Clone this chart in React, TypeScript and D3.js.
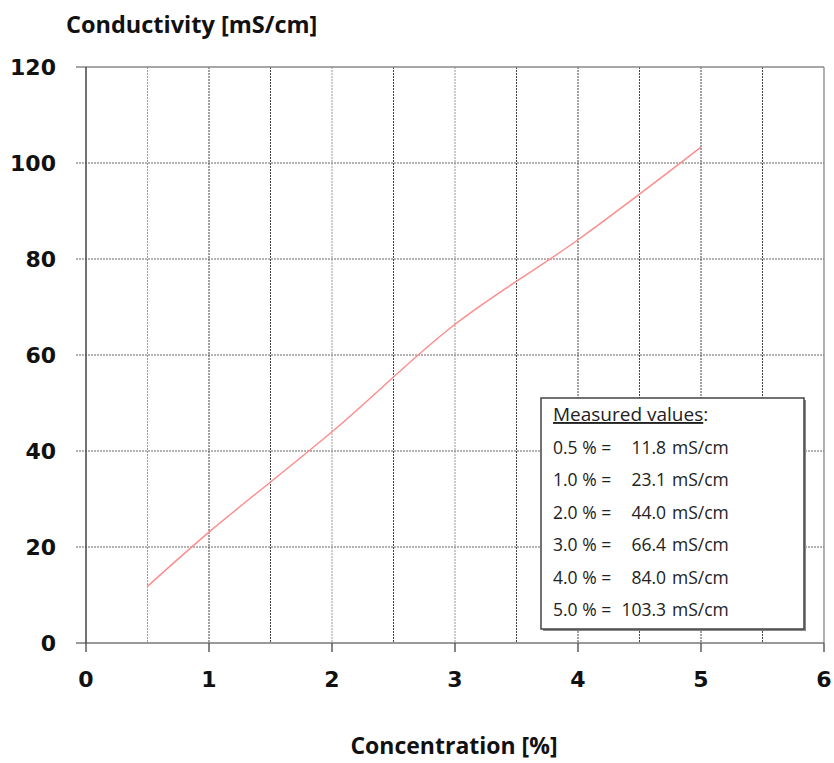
import React from "react";
import * as d3 from "d3";

const concentration = [0.5, 1.0, 2.0, 3.0, 4.0, 5.0];
const conductivity = [11.8, 23.1, 44.0, 66.4, 84.0, 103.3];
const xTicks = [0, 1, 2, 3, 4, 5, 6];
const xGrid = [0.5, 1, 1.5, 2, 2.5, 3, 3.5, 4, 4.5, 5, 5.5];
const yTicks = [0, 20, 40, 60, 80, 100, 120];
const yTitle = "Conductivity [mS/cm]";
const xTitle = "Concentration [%]";
const legendTitle = "Measured values";

const W = 834;
const H = 763;
const M = { left: 86, right: 824, top: 67, bottom: 643 };

export default function App() {
  const x = d3.scaleLinear().domain([0, 6]).range([M.left, M.right]);
  const y = d3.scaleLinear().domain([0, 120]).range([M.bottom, M.top]);
  const pts = concentration.map((c, i) => [c, conductivity[i]] as [number, number]);
  const line = d3
    .line<[number, number]>()
    .x((d) => x(d[0]))
    .y((d) => y(d[1]))
    .curve(d3.curveCatmullRom.alpha(0.5));

  const tickFont = "'DejaVu Sans', Verdana, sans-serif";
  const titleFont = "'Open Sans', sans-serif";
  const legFont = "'Open Sans', sans-serif";

  const lx = 541, ly = 398, lw = 263, lh = 231;
  const rowH = 32.4;

  return (
    <svg
      width={W}
      height={H}
      style={{ position: "absolute", left: 0, top: 0, background: "#fff" }}
    >
      {/* horizontal grid */}
      {yTicks.filter((t) => t > 0 && t < 120).map((t) => (
        <line key={"hg" + t} x1={M.left - 10} x2={M.right} y1={y(t)} y2={y(t)}
          stroke="#666" strokeWidth={1} strokeDasharray="2,1" />
      ))}
      {/* vertical grid */}
      {xGrid.map((g) => (
        <line key={"vg" + g} x1={x(g)} x2={x(g)} y1={M.top} y2={M.bottom}
          stroke={g === 0.5 || g === 2 || g === 3 ? "#999" : "#444"} strokeWidth={1} strokeDasharray="2,1" />
      ))}
      {/* border */}
      <line x1={M.left - 10} x2={M.right} y1={M.top} y2={M.top} stroke="#888" strokeWidth={1.3} />
      <line x1={M.right} x2={M.right} y1={M.top} y2={M.bottom} stroke="#888" strokeWidth={1.3} />
      {/* axes */}
      <line x1={M.left - 10} x2={M.right} y1={M.bottom} y2={M.bottom} stroke="#777" strokeWidth={1.5} />
      <line x1={M.left} x2={M.left} y1={M.top} y2={M.bottom} stroke="#444" strokeWidth={1.5} />
      {/* x ticks */}
      {xTicks.map((t) => (
        <g key={"xt" + t}>
          <line x1={x(t)} x2={x(t)} y1={M.bottom} y2={M.bottom + 9} stroke="#444" strokeWidth={1.3} />
          <text x={x(t)} y={687} textAnchor="middle" fontFamily={tickFont} fontWeight="bold" fontSize={22} fill="#111">
            {t}
          </text>
        </g>
      ))}
      {/* y ticks */}
      {yTicks.map((t) => (
        <text key={"yt" + t} x={56} y={y(t) + 8} textAnchor="end" fontFamily={tickFont} fontWeight="bold" fontSize={22} fill="#111">
          {t}
        </text>
      ))}
      {/* data line */}
      <path d={line(pts) || ""} fill="none" stroke="#ff8a8a" strokeWidth={1.4} />
      {/* titles */}
      <text x={66} y={33} fontFamily={titleFont} fontWeight="bold" fontSize={23.5} fill="#111">{yTitle}</text>
      <text x={454} y={754} textAnchor="middle" fontFamily={titleFont} fontWeight="bold" fontSize={23} fill="#111">{xTitle}</text>
      {/* legend box */}
      <rect x={lx + 2} y={ly + 2} width={lw} height={lh} fill="#888" />
      <rect x={lx} y={ly} width={lw} height={lh} fill="#fff" stroke="#444" strokeWidth={1.5} />
      <text x={553} y={421} fontFamily={legFont} fontSize={19} fill="#222">
        <tspan textDecoration="underline">{legendTitle}</tspan>
        <tspan>:</tspan>
      </text>
      {concentration.map((c, i) => (
        <g key={"lg" + c}>
          <text x={553} y={454 + i * rowH} fontFamily={legFont} fontSize={17.5} fill="#222">
            {c.toFixed(1) + " % ="}
          </text>
          <text x={666} y={454 + i * rowH} textAnchor="end" fontFamily={legFont} fontSize={17.5} fill="#222">
            {conductivity[i].toFixed(1)}
          </text>
          <text x={672} y={454 + i * rowH} fontFamily={legFont} fontSize={17.5} fill="#222">
            mS/cm
          </text>
        </g>
      ))}
    </svg>
  );
}
